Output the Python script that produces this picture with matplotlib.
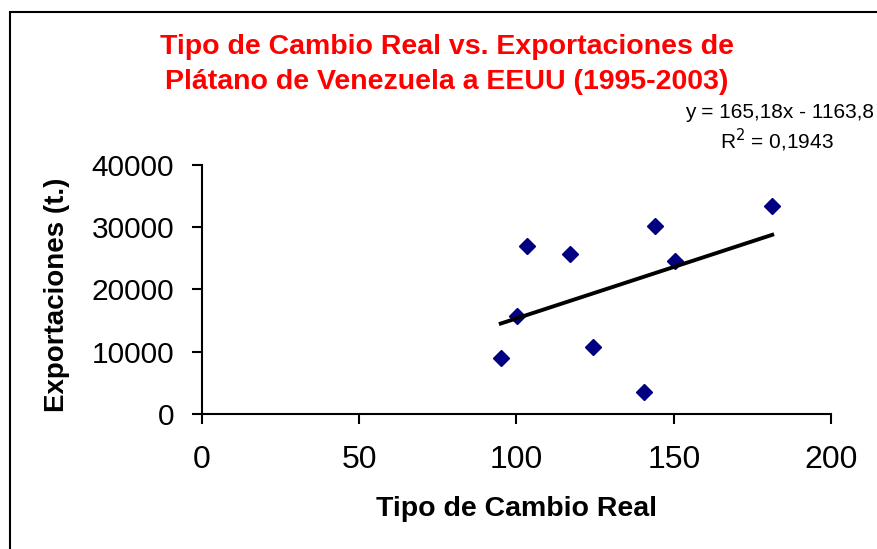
import matplotlib
matplotlib.use("Agg")
import matplotlib.pyplot as plt
from matplotlib.patches import Rectangle
import numpy as np

plt.rcParams['font.family'] = ['Liberation Sans', 'DejaVu Sans']

# data
tipo_cambio = [95.0, 100.1, 103.3, 117.1, 124.2, 140.6, 143.9, 150.4, 181.3]
exportaciones = [9044, 15791, 27036, 25751, 10715, 3582, 30249, 24578, 33462]
pendiente = 165.18
intercepto = -1163.8
x_ticks = [0, 50, 100, 150, 200]
y_ticks = [0, 10000, 20000, 30000, 40000]

def main():
	fig = plt.figure(figsize=(8.78, 5.49), dpi=100)
	ax = fig.add_axes([0.230, 0.2459, 0.7165, 0.4536])

	# outer chart border (runs off the right and bottom edges)
	fig.patches.append(Rectangle((10 / 878, -0.1), 1.2, 1.1 - 12 / 549, transform=fig.transFigure,
		fill=False, edgecolor="black", linewidth=1.5))

	ax.plot(tipo_cambio, exportaciones, 'D', color="#000080", markersize=8.5, linestyle="none")

	# linear trend line over the data range
	xs = np.array([min(tipo_cambio), max(tipo_cambio)])
	ax.plot(xs, pendiente * xs + intercepto, color="black", linewidth=2.8)

	ax.set_xlim(0, 200)
	ax.set_ylim(0, 40000)
	ax.set_xticks(x_ticks)
	ax.set_yticks(y_ticks)
	ax.tick_params(direction="out", length=7, width=1.5)
	ax.tick_params(axis="y", labelsize=21.5, pad=13)
	ax.tick_params(axis="x", labelsize=23, pad=15)
	for s in ["top", "right"]:
		ax.spines[s].set_visible(False)
	for s in ["left", "bottom"]:
		ax.spines[s].set_linewidth(1.5)

	ax.set_xlabel("Tipo de Cambio Real", fontsize=20.5, fontweight="bold")
	ax.set_ylabel("Exportaciones (t.)", fontsize=20, fontweight="bold")
	ax.xaxis.set_label_coords(0.5, -0.3815)
	ax.xaxis.label.set_va("center")
	ax.yaxis.set_label_coords(-0.2305, 0.478)
	ax.yaxis.label.set_va("center")

	fig.text(447 / 878, 1 - 47 / 549, "Tipo de Cambio Real vs. Exportaciones de",
		ha="center", va="center", color="#ff0000", fontsize=20.5, fontweight="bold")
	fig.text(447 / 878, 1 - 82 / 549, "Plátano de Venezuela a EEUU (1995-2003)",
		ha="center", va="center", color="#ff0000", fontsize=20.5, fontweight="bold")

	fig.text(874 / 878, 1 - 112 / 549, "y = 165,18x - 1163,8", ha="right", va="center", fontsize=15)
	fig.text(777 / 878, 1 - 140 / 549, "R$^2$ = 0,1943", ha="center", va="center", fontsize=15)

	fig.savefig("out.png", dpi=100)

if __name__ == "__main__":
	main()
